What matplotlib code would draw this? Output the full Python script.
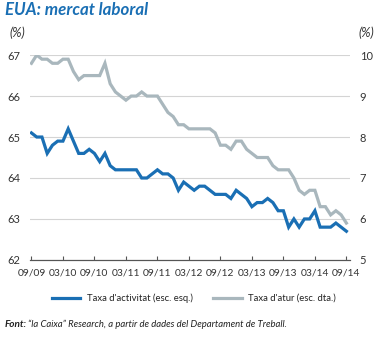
import matplotlib
matplotlib.use("Agg")
import matplotlib.pyplot as plt
import numpy as np

# monthly data, 09/2009 .. 09/2014
activity = [65.1, 65.0, 65.0, 64.6,
            64.8, 64.9, 64.9, 65.2, 64.9, 64.6, 64.6, 64.7, 64.6, 64.4, 64.6, 64.3,
            64.2, 64.2, 64.2, 64.2, 64.2, 64.0, 64.0, 64.1, 64.2, 64.1, 64.1, 64.0,
            63.7, 63.9, 63.8, 63.7, 63.8, 63.8, 63.7, 63.6, 63.6, 63.6, 63.5, 63.7,
            63.6, 63.5, 63.3, 63.4, 63.4, 63.5, 63.4, 63.2, 63.2, 62.8, 63.0, 62.8,
            63.0, 63.0, 63.2, 62.8, 62.8, 62.8, 62.9, 62.8, 62.7]
unemployment = [9.8, 10.0, 9.9, 9.9,
                9.8, 9.8, 9.9, 9.9, 9.6, 9.4, 9.5, 9.5, 9.5, 9.5, 9.8, 9.3,
                9.1, 9.0, 8.9, 9.0, 9.0, 9.1, 9.0, 9.0, 9.0, 8.8, 8.6, 8.5,
                8.3, 8.3, 8.2, 8.2, 8.2, 8.2, 8.2, 8.1, 7.8, 7.8, 7.7, 7.9,
                7.9, 7.7, 7.6, 7.5, 7.5, 7.5, 7.3, 7.2, 7.2, 7.2, 7.0, 6.7,
                6.6, 6.7, 6.7, 6.3, 6.3, 6.1, 6.2, 6.1, 5.9]
tick_labels = ["09/09", "03/10", "09/10", "03/11", "09/11", "03/12",
               "09/12", "03/13", "09/13", "03/14", "09/14"]

blue = "#1a6fb4"
grey = "#a9b7bd"
plt.rcParams['font.family'] = ['Lato', 'DejaVu Sans']

fig = plt.figure(figsize=(3.83, 3.38), dpi=100)
ax = fig.add_axes([0.078, 0.231, 0.836, 0.606])
ax2 = ax.twinx()

months = np.arange(len(activity))
ax.plot(months, activity, color=blue, lw=2.3, solid_joinstyle='miter', zorder=3)
ax2.plot(months, unemployment, color=grey, lw=2.3, solid_joinstyle='miter', zorder=3)

ax.set_ylim(62, 67)
ax2.set_ylim(5, 10)
ax.set_xlim(-0.3, 60.7)
ax.set_yticks(range(62, 68))
ax2.set_yticks(range(5, 11))
ax.set_xticks(range(0, 61, 6))
ax.set_xticklabels(tick_labels)
ax.grid(axis='y', color='#d4d4d4', lw=0.8)
ax.set_axisbelow(True)

for a in (ax, ax2):
    for s in ('top', 'left', 'right'):
        a.spines[s].set_visible(False)
    a.spines['bottom'].set_color('#555555')
    a.spines['bottom'].set_linewidth(0.8)
ax.tick_params(axis='y', length=0, labelsize=8, pad=7, labelcolor='#333333')
ax2.tick_params(axis='y', length=0, labelsize=8, pad=7, labelcolor='#333333')
ax.tick_params(axis='x', direction='in', length=3, width=0.8, color='#555555',
               labelsize=7.4, pad=6, labelcolor='#333333')

fig.text(0.013, 0.955, "EUA: mercat laboral", color=blue, fontsize=12.2,
         fontweight='bold', style='italic')
fig.text(0.024, 0.89, "(%)", fontsize=9, style='italic', color='#333333')
fig.text(0.978, 0.89, "(%)", fontsize=9, style='italic', color='#333333', ha='right')

# legend
fig.lines.append(plt.Line2D([0.136, 0.21], [0.118, 0.118], color=blue, lw=2.3,
                            transform=fig.transFigure))
fig.text(0.227, 0.118, "Taxa d'activitat (esc. esq.)", fontsize=6.8,
         va='center', color='#222222')
fig.lines.append(plt.Line2D([0.556, 0.632], [0.118, 0.118], color=grey, lw=2.3,
                            transform=fig.transFigure))
fig.text(0.648, 0.118, "Taxa d'atur (esc. dta.)", fontsize=6.8,
         va='center', color='#222222')

fig.text(0.013, 0.04, "Font:", fontsize=7.2, style='italic', fontweight='bold',
         color='#222222', va='center')
fig.text(0.074, 0.04, "\u201cla Caixa\u201d Research, a partir de dades del Departament de Treball.",
         fontsize=6.8, style='italic', color='#222222', va='center')

fig.savefig("out.png", dpi=100)
